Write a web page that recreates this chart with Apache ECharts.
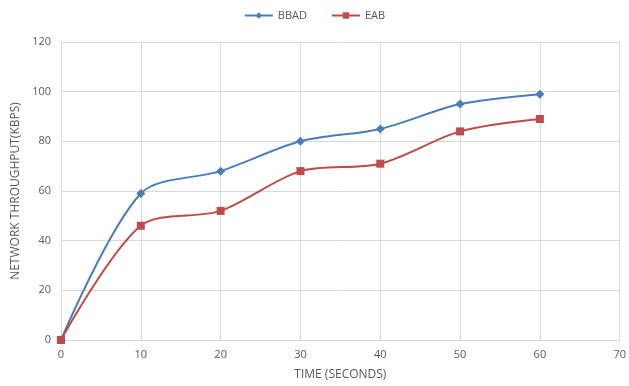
<!DOCTYPE html>
<html><head><meta charset="utf-8">
<script src="https://cdn.jsdelivr.net/npm/echarts@6/dist/echarts.min.js"></script>
<style>html,body{margin:0;padding:0;background:#fff}#c{width:629px;height:386px}</style>
</head><body><div id="c"></div>
<script>
const times = [0, 10, 20, 30, 40, 50, 60];
const bbad = [0, 59, 68, 80, 85, 95, 99];
const eab = [0, 46, 52, 68, 71, 84, 89];
const seriesNames = ['BBAD', 'EAB'];

const chart = echarts.init(document.getElementById('c'));
const txt = '#595959';
const font = 'Open Sans';
chart.setOption({
  animation: false,
  textStyle: {fontFamily: font},
  legend: {
    top: 5, left: 'center', itemWidth: 28, itemHeight: 8, itemGap: 24,
    textStyle: {color: txt, fontSize: 11, fontFamily: font},
    data: seriesNames
  },
  grid: {left: 61, right: 4, top: 42, bottom: 44, containLabel: false},
  xAxis: {
    type: 'value', min: 0, max: 70, interval: 10,
    name: 'TIME (SECONDS)', nameLocation: 'middle', nameGap: 29,
    nameTextStyle: {color: txt, fontSize: 12, fontFamily: font},
    axisLine: {show: true, lineStyle: {color: '#d9d9d9'}},
    axisTick: {show: false},
    axisLabel: {color: txt, fontSize: 11, margin: 9},
    splitLine: {show: true, lineStyle: {color: '#d9d9d9'}}
  },
  yAxis: {
    type: 'value', min: 0, max: 120, interval: 20,
    name: 'NETWORK THROUGHPUT(KBPS)', nameLocation: 'middle', nameGap: 36,
    nameTextStyle: {color: txt, fontSize: 12, fontFamily: font},
    axisLine: {show: false},
    axisTick: {show: false},
    axisLabel: {color: txt, fontSize: 11, margin: 10},
    splitLine: {show: true, lineStyle: {color: '#d9d9d9'}}
  },
  series: [
    {name: seriesNames[0], type: 'line', smooth: 0.3, symbol: 'diamond', symbolSize: 9,
     data: times.map((t, i) => [t, bbad[i]]),
     itemStyle: {color: '#4A7EBB'}, lineStyle: {color: '#4A7EBB', width: 2}},
    {name: seriesNames[1], type: 'line', smooth: 0.3, symbol: 'rect', symbolSize: 8,
     data: times.map((t, i) => [t, eab[i]]),
     itemStyle: {color: '#BE4B48'}, lineStyle: {color: '#BE4B48', width: 2}}
  ]
});
</script></body></html>
